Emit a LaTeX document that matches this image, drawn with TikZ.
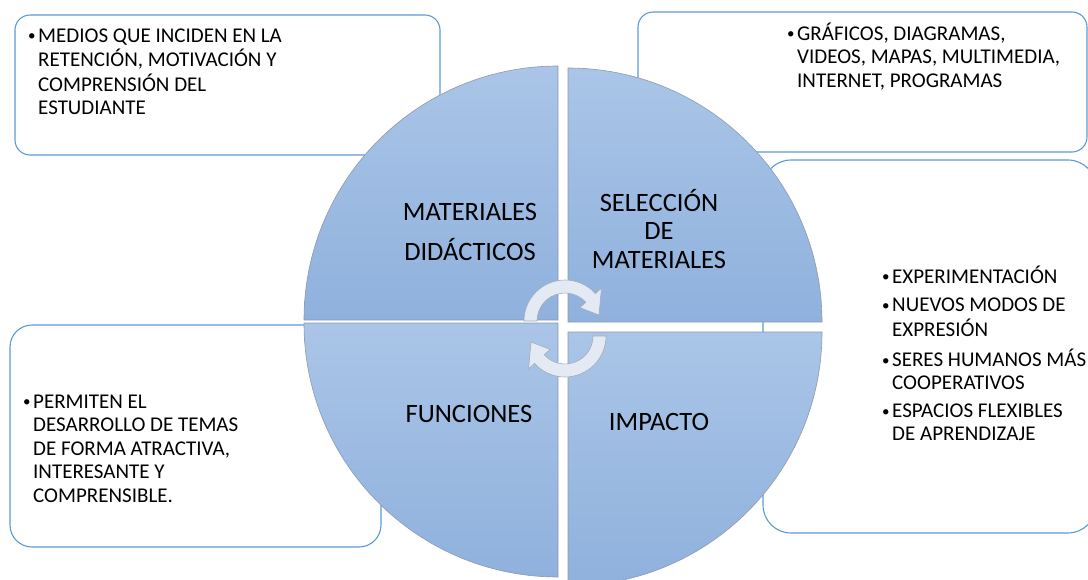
\documentclass[tikz,border=0pt]{standalone}
\usepackage{fontspec}
\setmainfont{Carlito}
\usetikzlibrary{calc}
\definecolor{boxblue}{HTML}{5B9BD5}
\definecolor{qtop}{HTML}{AAC5E7}
\definecolor{qbot}{HTML}{8FB1DD}
\definecolor{qline}{HTML}{8C9AAE}
\definecolor{arrfill}{HTML}{E3EAF4}
\definecolor{arrline}{HTML}{A3ACBA}
\newcommand{\bulmark}{\makebox[11pt][l]{\hspace{1pt}\raisebox{1.5pt}{\fontsize{15}{15}\selectfont•}}}
\begin{document}
\begin{tikzpicture}[x=1pt,y=-1pt,
  infobox/.style={draw=boxblue,line width=1.1pt,fill=white},
  quad/.style={draw=qline,line width=0.6pt,top color=qtop,bottom color=qbot},
  cyc/.style={fill=arrfill,draw=arrline,line width=0.6pt},
  btext/.style={anchor=base west,inner sep=0pt,font=\fontsize{21}{23.5}\selectfont},
  qtext/.style={anchor=base,inner sep=0pt}]
\useasboundingbox (0,0) rectangle (1088,579);
\clip (0,0) rectangle (1088,579);
% outer boxes
\draw[infobox, rounded corners=15pt] (15,15) rectangle (440,155);
\draw[infobox, rounded corners=15pt] (638,12) rectangle (1087,152);
\draw[infobox, rounded corners=28pt] (763,160) rectangle (1096,533);
\draw[infobox, rounded corners=22pt] (10,325) rectangle (381,547);
% quadrants
\draw[quad] (558,320) -- (304,320) arc[start angle=180,end angle=270,radius=254] -- cycle;
\draw[quad] (568,322) -- (568,68) arc[start angle=270,end angle=360,radius=254] -- cycle;
\draw[quad] (558,323) -- (304,323) arc[start angle=180,end angle=90,radius=254] -- cycle;
\draw[quad] (568,332) -- (822,332) arc[start angle=0,end angle=90,radius=254] -- cycle;
% cycle arrows
\coordinate (ca) at (565,321);
\coordinate (cb) at (565,336);
\draw[cyc] ($(ca)+(180:41)$) arc[start angle=180,end angle=318,radius=41]
  -- ($(ca)+(318:49)$) -- ($(ca)+(350:34.5)$) -- ($(ca)+(318:20)$)
  -- ($(ca)+(318:28)$) arc[start angle=318,end angle=180,radius=28] -- cycle;
\draw[cyc] ($(cb)+(0:41)$) arc[start angle=0,end angle=138,radius=41]
  -- ($(cb)+(138:49)$) -- ($(cb)+(170:34.5)$) -- ($(cb)+(138:20)$)
  -- ($(cb)+(138:28)$) arc[start angle=138,end angle=0,radius=28] -- cycle;
% quadrant labels
\node[qtext,font=\fontsize{26.5}{40}\selectfont] (mat) at (470,220)
  {\begin{tabular}[t]{@{}c@{}}MATERIALES\\DIDÁCTICOS\end{tabular}};
\node[qtext,font=\fontsize{26.5}{28.5}\selectfont] (sel) at (659,211)
  {\begin{tabular}[t]{@{}c@{}}SELECCIÓN\\DE\\MATERIALES\end{tabular}};
\node[qtext,font=\fontsize{26.5}{31}\selectfont] (fun) at (469,422) {FUNCIONES};
\node[qtext,font=\fontsize{26.5}{31}\selectfont] (imp) at (659,430) {IMPACTO};
% box texts
\node[btext] (t1) at (27,42) {\begin{tabular}[t]{@{}l@{}l@{}}
  \bulmark & MEDIOS QUE INCIDEN EN LA\\
  & RETENCIÓN, MOTIVACIÓN Y\\
  & COMPRENSIÓN DEL\\
  & ESTUDIANTE\end{tabular}};
\node[btext] (t2) at (786,40) {\begin{tabular}[t]{@{}l@{}l@{}}
  \bulmark & GRÁFICOS, DIAGRAMAS,\\
  & VIDEOS, MAPAS, MULTIMEDIA,\\
  & INTERNET, PROGRAMAS\end{tabular}};
\node[btext,font=\fontsize{21}{22.3}\selectfont] (t3) at (881,283) {\begin{tabular}[t]{@{}l@{}l@{}}
  \bulmark & EXPERIMENTACIÓN\\[6.5pt]
  \bulmark & NUEVOS MODOS DE\\
  & EXPRESIÓN\\[6.5pt]
  \bulmark & SERES HUMANOS MÁS\\
  & COOPERATIVOS\\[6.5pt]
  \bulmark & ESPACIOS FLEXIBLES\\
  & DE APRENDIZAJE\end{tabular}};
\node[btext] (t4) at (22,408) {\begin{tabular}[t]{@{}l@{}l@{}}
  \bulmark & PERMITEN EL\\
  & DESARROLLO DE TEMAS\\
  & DE FORMA ATRACTIVA,\\
  & INTERESANTE Y\\
  & COMPRENSIBLE.\end{tabular}};
\end{tikzpicture}
\end{document}
